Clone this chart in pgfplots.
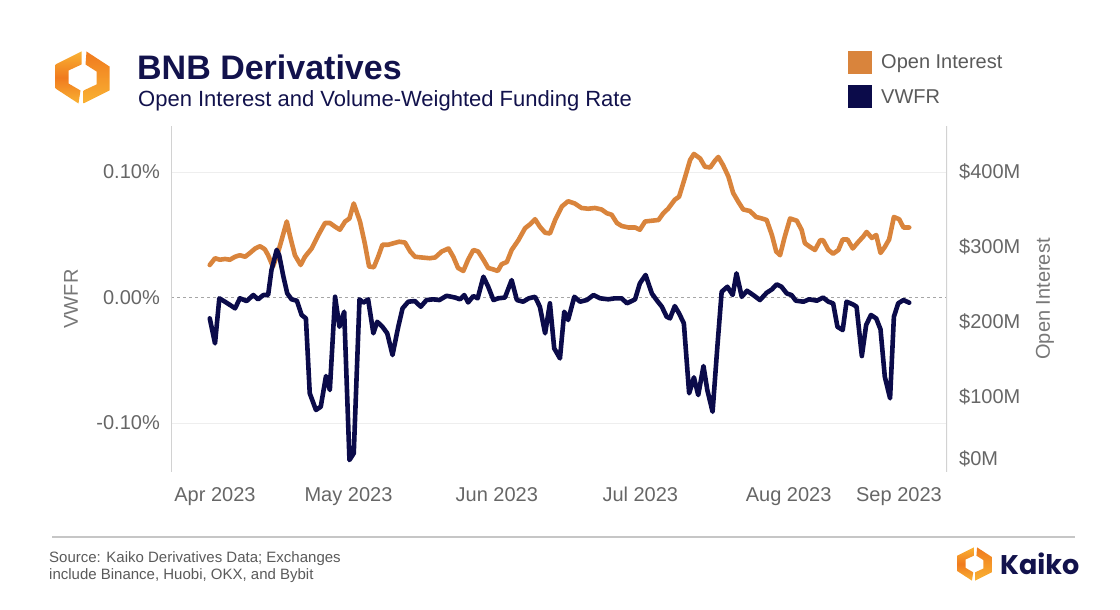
\documentclass[border=0pt]{standalone}
\usepackage{fontspec}
\setmainfont{Liberation Sans}
\newfontfamily\kaikofont{Poppins}
\usepackage{pgfplots}
\pgfplotsset{compat=1.18}
\definecolor{oi}{HTML}{D9843C}
\definecolor{vw}{HTML}{0B0B4A}
\definecolor{navy}{HTML}{12124C}
\definecolor{tickc}{HTML}{666666}
\definecolor{labc}{HTML}{777777}
\definecolor{srcc}{HTML}{5A5A5A}
\definecolor{kY}{HTML}{F9B233}
\definecolor{kO}{HTML}{F07A1E}
\newcommand\kaikologo[3]{%
 \begin{scope}[shift={(#1,#2)},scale=#3]
  \shade[top color=kY,bottom color=kY,middle color=kO] (-1,26) -- (-27,13) -- (-27,-11) -- (-4,-26) -- (-2,-13) -- (-14,-6) -- (-14,7) -- (-1,13) -- cycle;
  \shade[top color=kO,bottom color=kY] (4,26) -- (27,11) -- (27,-13) -- (1,-26) -- (1,-13) -- (14,-7) -- (14,6) -- (3,13) -- cycle;
 \end{scope}}
\begin{document}
\begin{tikzpicture}[x=1pt,y=1pt]
\path (0,0) rectangle (1120,610);
\pgfplotsset{
  common/.style={at={(171pt,138pt)}, anchor=south west, scale only axis,
    width=776pt, height=346pt, xmin=-7.1, xmax=155.1,
    axis line style={draw=none}, major tick length=0pt,
    tick label style={font=\fontsize{20}{24}\selectfont, text=tickc}},
}
% left axis: grid, ticks, labels
\begin{axis}[common, ymin=-0.139, ymax=0.1367,
    ytick={-0.1,0.1}, yticklabels={-0.10\%,0.10\%},
    extra y ticks={0}, extra y tick labels={0.00\%},
    extra y tick style={major grid style={dashed, draw=gray!70, line width=0.7pt}},
    ymajorgrids, grid style={draw=gray!13, line width=0.8pt},
    xtick={0,30,61,91,122,153},
    xticklabels={\hspace*{20pt}Apr 2023, May 2023, Jun 2023, Jul 2023, Aug 2023, Sep 2023\hspace*{76pt}},
    xticklabel style={inner sep=0pt, anchor=north, yshift=-15pt},
    yticklabel style={inner sep=0pt, anchor=east, xshift=-11pt},
    ylabel={VWFR},
    ylabel style={at={(axis description cs:0,0.5)}, anchor=center, yshift=100pt,
      font=\fontsize{20}{24}\selectfont, text=labc}]
  \draw[gray!35, line width=1.2pt] (rel axis cs:0,0) -- (rel axis cs:0,1);
  \draw[gray!35, line width=1.2pt] (rel axis cs:1,0) -- (rel axis cs:1,1);
\end{axis}
% right axis: open interest
\begin{axis}[common, ymin=0, ymax=461.3, xtick=\empty,
    yticklabel pos=right,
    ytick={100,200,300,400}, yticklabels={\$100M,\$200M,\$300M,\$400M},
    extra y ticks={0}, extra y tick labels={\$0M},
    extra y tick style={yticklabel style={yshift=13pt}},
    yticklabel style={inner sep=0pt, anchor=west, xshift=12pt},
    ylabel={Open Interest},
    ylabel style={at={(axis description cs:1,0.5)}, anchor=center, rotate=0, yshift=-98pt,
      font=\fontsize{20}{24}\selectfont, text=labc}]
  \addplot[oi, line width=4.6pt, line join=round, line cap=round] coordinates {
(1.0,276)(2.1,285)(3.1,283)(4.2,284)(5.2,283)(6.3,287)(7.3,289)(8.4,287)(9.4,292)(10.5,298)(11.5,301)(12.5,297)(13.2,289)(14.2,274)(15.1,289)(16.0,309)(17.1,334)(17.8,314)(18.8,289)(20.0,276)(20.9,287)(22.3,298)(23.7,316)(25.1,332)(26.1,332)(27.2,327)(28.2,323)(29.3,334)(30.2,338)(31.1,358)(32.4,334)(33.4,305)(34.3,274)(35.3,273)(36.2,287)(37.1,303)(38.3,303)(39.4,305)(40.6,307)(41.8,306)(42.9,294)(43.9,287)(45.3,286)(47.0,285)(48.1,286)(49.5,294)(50.9,298)(51.9,287)(52.9,272)(54.0,268)(55.0,283)(56.1,296)(57.1,294)(58.2,283)(59.2,272)(60.3,270)(61.2,268)(62.0,277)(63.1,280)(64.1,296)(65.5,309)(66.9,325)(67.9,330)(69.0,337)(70.0,327)(71.1,319)(72.1,318)(73.2,336)(74.6,354)(75.9,361)(77.3,358)(78.7,352)(80.1,351)(81.5,352)(82.9,350)(84.0,345)(85.0,343)(86.1,332)(87.1,328)(88.5,326)(89.9,326)(90.9,323)(92.0,334)(93.4,335)(94.8,336)(95.8,345)(96.8,351)(98.2,363)(99.1,367)(100.3,392)(101.4,416)(102.2,424)(103.5,418)(104.5,407)(105.6,406)(106.6,415)(107.3,420)(108.3,409)(109.4,394)(110.4,372)(111.5,360)(112.5,350)(113.9,348)(115.2,340)(116.4,338)(117.4,336)(118.5,316)(119.4,294)(120.2,289)(121.2,314)(122.3,338)(123.7,335)(124.7,323)(125.4,305)(126.5,300)(127.5,296)(128.6,309)(129.2,309)(130.3,296)(131.3,291)(132.4,296)(133.3,310)(134.3,310)(135.4,298)(136.6,307)(137.6,314)(138.3,320)(139.4,312)(140.3,316)(141.2,292)(142.1,300)(143.0,310)(144.0,340)(145.1,337)(146.0,326)(147.2,326)
  };
\end{axis}
% VWFR line on top
\begin{axis}[common, ymin=-0.139, ymax=0.1367, hide axis]
  \addplot[vw, line width=4.6pt, line join=round, line cap=round] coordinates {
(1.0,-0.0166)(2.1,-0.0365)(3.0,-0.0006)(4.5,-0.0041)(6.3,-0.0086)(7.3,-0.0006)(8.7,-0.0028)(10.1,0.002)(11.1,-0.0014)(12.2,0.002)(13.2,0.002)(13.9,0.0219)(15.0,0.038)(15.5,0.0339)(16.4,0.0166)(17.2,0.0033)(18.1,-0.0014)(19.2,-0.0025)(20.2,-0.0139)(21.1,-0.0166)(21.9,-0.0763)(23.2,-0.0896)(24.2,-0.087)(25.3,-0.0625)(26.1,-0.0737)(27.2,0.0006)(28.1,-0.0233)(29.1,-0.0113)(30.2,-0.1295)(31.1,-0.1241)(32.3,-0.0014)(33.1,-0.0041)(34.1,-0.0014)(35.2,-0.0285)(36.0,-0.0193)(37.1,-0.0233)(38.1,-0.0285)(39.2,-0.0458)(40.4,-0.0233)(41.3,-0.0086)(42.5,-0.0033)(43.9,-0.0028)(45.1,-0.0073)(46.3,-0.002)(47.7,-0.0014)(49.0,-0.002)(50.5,0.0014)(52.3,0)(53.3,-0.0014)(54.2,0.002)(55.0,-0.0039)(56.1,0.0012)(57.0,-0.0006)(58.2,0.0166)(59.2,0.0086)(60.3,-0.002)(61.3,-0.0006)(62.7,0)(64.1,0.0139)(65.2,-0.002)(66.5,-0.0033)(67.7,-0.0006)(69.0,0.0006)(70.0,-0.0073)(71.1,-0.0285)(72.1,-0.0046)(73.0,-0.0405)(74.2,-0.0485)(75.1,-0.0113)(75.9,-0.0179)(77.2,0.0006)(78.4,-0.0033)(79.8,-0.002)(81.2,0.002)(82.6,-0.0006)(84.3,-0.0014)(85.7,-0.0006)(87.1,-0.0006)(88.2,-0.0046)(89.9,-0.0014)(90.9,0.0113)(92.1,0.018)(93.4,0.0033)(94.4,-0.002)(95.5,-0.0073)(96.5,-0.0153)(97.2,-0.0166)(98.2,-0.0068)(99.1,-0.0126)(100.1,-0.0206)(101.2,-0.0763)(102.2,-0.0636)(103.1,-0.0777)(104.2,-0.0546)(105.0,-0.0737)(106.1,-0.091)(107.1,-0.0392)(108.0,0.0046)(109.2,0.0086)(110.3,0.002)(111.1,0.0193)(112.2,0.0006)(113.3,0.0054)(114.6,0.002)(116.0,-0.002)(117.4,0.0038)(118.5,0.0065)(119.5,0.0105)(120.5,0.0086)(121.6,0.0033)(122.6,0.002)(123.5,-0.0025)(125.1,-0.0033)(126.3,-0.0014)(127.9,-0.0025)(129.2,0)(130.3,-0.0033)(131.3,-0.0046)(132.2,-0.0233)(133.3,-0.0259)(134.1,-0.0033)(135.4,-0.0054)(136.2,-0.0073)(137.3,-0.0466)(138.2,-0.0219)(139.2,-0.0139)(140.3,-0.0166)(141.2,-0.0253)(142.1,-0.0631)(143.2,-0.0803)(144.0,-0.0153)(144.9,-0.0046)(146.0,-0.002)(147.2,-0.0041)
  };
\end{axis}
% title block
\kaikologo{82.5}{532.5}{1}
\node[anchor=base west, inner sep=0pt, text=navy, font=\bfseries\fontsize{34}{40}\selectfont] at (137,530) {BNB Derivatives};
\node[anchor=base west, inner sep=0pt, text=navy, font=\fontsize{22}{26}\selectfont] at (138,503) {Open Interest and Volume-Weighted Funding Rate};
% legend
\fill[oi] (848,536) rectangle (872,559);
\fill[vw] (848,502) rectangle (872,525);
\node[anchor=base west, inner sep=0pt, text=srcc, font=\fontsize{20}{24}\selectfont] at (881,541) {Open Interest};
\node[anchor=base west, inner sep=0pt, text=srcc, font=\fontsize{20}{24}\selectfont] at (881,506) {VWFR};
% footer
\draw[gray!45, line width=1.2pt] (52,73) -- (1075,73);
\node[anchor=base west, inner sep=0pt, text=srcc, font=\fontsize{15}{17}\selectfont] at (49,47) {Source: Kaiko Derivatives Data; Exchanges};
\node[anchor=base west, inner sep=0pt, text=srcc, font=\fontsize{15}{17}\selectfont] at (49,30) {include Binance, Huobi, OKX, and Bybit};
\kaikologo{974.5}{46}{0.64}
\node[anchor=base west, inner sep=0pt, text=navy, font=\kaikofont\bfseries\fontsize{27}{30}\selectfont] at (1000,35) {Kaiko};
\end{tikzpicture}
\end{document}
